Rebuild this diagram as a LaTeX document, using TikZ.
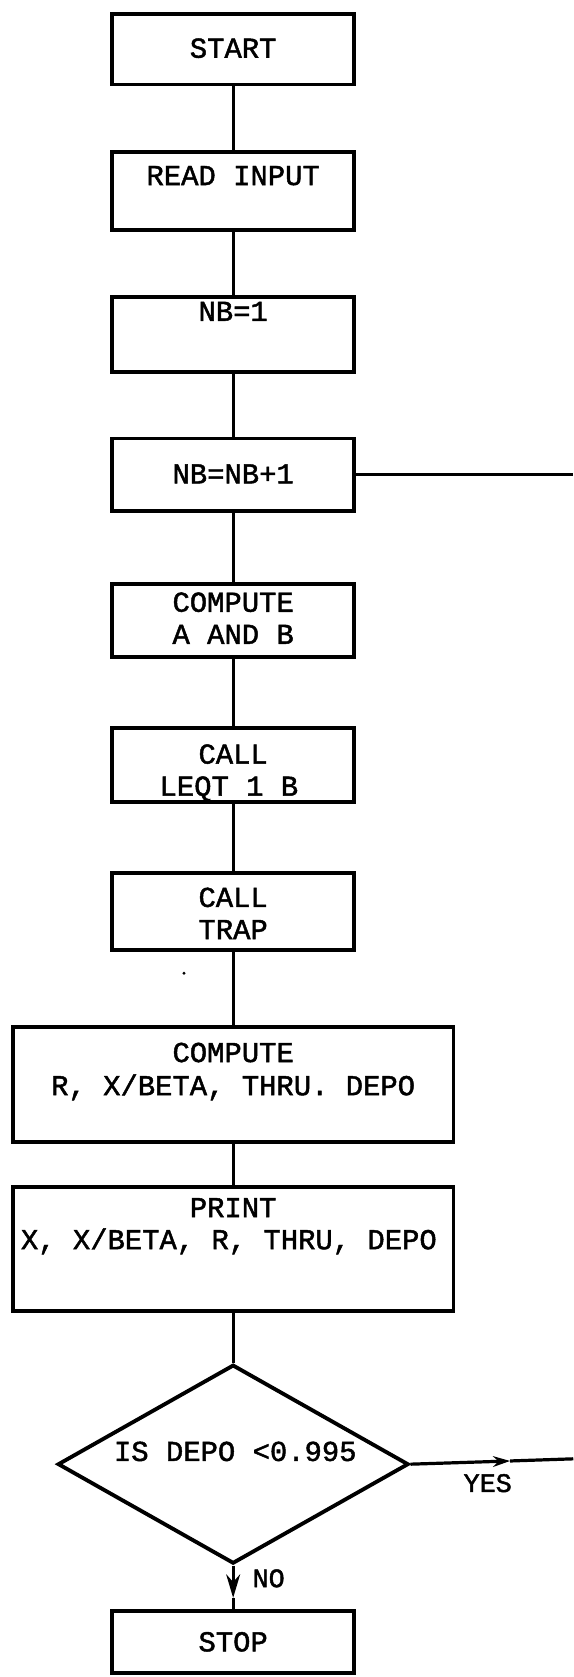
\documentclass[tikz,border=0pt]{standalone}
\usepackage{fontspec}
\newfontfamily\twfont{Liberation Mono}[FakeBold=1.6]
\usetikzlibrary{shapes.geometric,arrows.meta}
\begin{document}
\begin{tikzpicture}[x=1pt,y=-1pt,
  box/.style={draw,line width=3.6pt,minimum width=226pt,inner sep=0pt},
  wbox/.style={draw,line width=3.6pt,minimum width=412pt,inner sep=0pt},
  lbl/.style={font=\fontsize{27}{30}\selectfont\twfont,inner sep=0pt,anchor=base},
  conn/.style={line width=3pt},
  ]
\useasboundingbox (0,0) rectangle (536,1568);
% boxes
\node[box,minimum height=66pt] (start) at (218,46) {};
\node[box,minimum height=73pt] (read) at (218,178.5) {};
\node[box,minimum height=70pt] (nb1) at (218,313) {};
\node[box,minimum height=68pt] (nbb) at (218,444) {};
\node[box,minimum height=68pt] (ab) at (218,580) {};
\node[box,minimum height=69pt] (leqt) at (218,715.5) {};
\node[box,minimum height=72pt] (trap) at (218,852) {};
\node[wbox,minimum height=108pt] (compr) at (218,1014) {};
\node[wbox,minimum height=116pt] (print) at (218,1168) {};
\node[diamond,draw,line width=3.6pt,minimum width=328pt,minimum height=186pt,inner sep=0pt] (dec) at (218,1369) {};
\node[box,minimum height=58pt] (stop) at (218,1535) {};
% texts
\node[lbl] (tstart) at (218,54) {START};
\node[lbl] (tread) at (218,173) {READ INPUT};
\node[lbl] (tnb1) at (218,300) {NB=1};
\node[lbl] (tnbb) at (218,452) {NB=NB+1};
\node[lbl] (tab1) at (218,572) {COMPUTE};
\node[lbl] (tab2) at (218,602) {A AND B};
\node[lbl] (tleqt1) at (218,714) {CALL};
\node[lbl] (tleqt2) at (214,744) {LEQT 1 B};
\node[lbl] (ttrap1) at (218,848) {CALL};
\node[lbl] (ttrap2) at (218,878) {TRAP};
\node[lbl] (tcr1) at (218,993) {COMPUTE};
\node[lbl] (tcr2) at (218,1024) {R, X/BETA, THRU. DEPO};
\node[lbl] (tpr1) at (218,1138) {PRINT};
\node[lbl] (tpr2) at (214,1168) {X, X/BETA, R, THRU, DEPO};
\node[lbl] (tdec) at (220,1366) {IS DEPO <0.995};
\node[lbl] (tstop) at (218,1544) {STOP};
\node[lbl,font=\fontsize{25}{30}\selectfont\twfont] (tyes) at (456,1395) {YES};
\node[lbl,font=\fontsize{25}{30}\selectfont\twfont,anchor=base west] (tno) at (236,1484) {NO};
% connectors
\draw[conn] (start.south) -- (read.north);
\draw[conn] (read.south) -- (nb1.north);
\draw[conn] (nb1.south) -- (nbb.north);
\draw[conn] (nbb.south) -- (ab.north);
\draw[conn] (ab.south) -- (leqt.north);
\draw[conn] (leqt.south) -- (trap.north);
\draw[conn] (trap.south) -- (compr.north);
\draw[conn] (compr.south) -- (print.north);
\draw[conn] (print.south) -- (dec.north);
\coordinate (loopend) at (536,444);
\draw[conn] (nbb.east) -- (loopend);
\coordinate (yesmid) at (477,1366);
\coordinate (yesend) at (536,1364);
\draw[conn,-{Stealth[length=16pt,width=10pt]}] (dec.east) -- (yesmid);
\draw[conn] (yesmid) -- (yesend);
\coordinate (nomid) at (218,1494);
\draw[conn,-{Stealth[length=22pt,width=13pt]}] (dec.south) -- (nomid);
\draw[conn] (nomid) -- (stop.north);
\fill (172,910) circle (1.5pt);
\end{tikzpicture}
\end{document}
